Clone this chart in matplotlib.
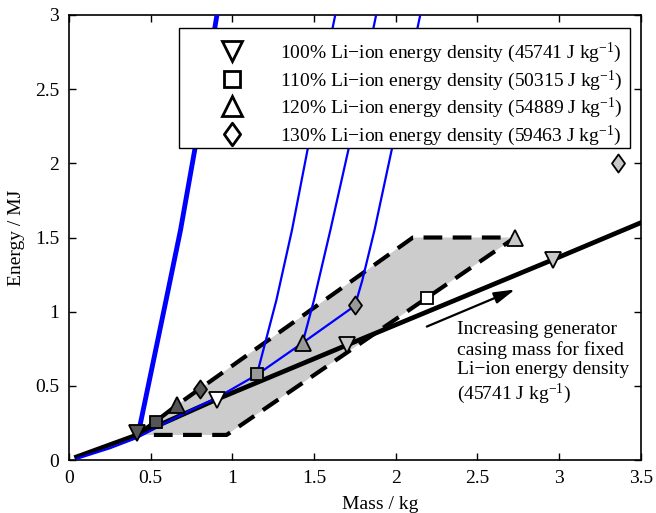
import numpy as np
import matplotlib
matplotlib.use("Agg")
import matplotlib.pyplot as plt
from matplotlib.path import Path
from matplotlib.patches import Rectangle

plt.rcParams["font.family"] = ["Liberation Serif", "DejaVu Serif"]
plt.rcParams["mathtext.fontset"] = "custom"
plt.rcParams["mathtext.rm"] = "Liberation Serif"
plt.rcParams["mathtext.it"] = "Liberation Serif:italic"
plt.rcParams["font.size"] = 14

# (mass in kg, energy in MJ)
casing_mass = [0.047, 0.416, 0.905, 1.70, 2.96, 3.5]
casing_energy = [0.022, 0.17, 0.41, 0.775, 1.35, 1.60]

upper_mass = [0.416, 0.53, 0.66, 0.80, 2.105, 2.73]
upper_energy = [0.17, 0.26, 0.37, 0.48, 1.50, 1.50]
lower_mass = [0.52, 0.965, 2.73]
lower_energy = [0.17, 0.17, 1.50]

min_mass = [0.05, 0.25, 0.416, 0.66, 0.905, 1.15, 1.43, 1.75]
min_energy = [0.01, 0.08, 0.15, 0.29, 0.42, 0.575, 0.79, 1.04]

steep_100_mass = [0.425, 0.595, 0.683, 0.77, 0.906]
steep_100_energy = [0.18, 1.08, 1.55, 2.09, 3.0]
steep_110_mass = [1.15, 1.27, 1.365, 1.46, 1.63]
steep_110_energy = [0.575, 1.08, 1.55, 2.09, 3.0]
steep_120_mass = [1.43, 1.50, 1.60, 1.71, 1.88]
steep_120_energy = [0.79, 1.08, 1.55, 2.09, 3.0]
steep_130_mass = [1.75, 1.795, 1.87, 1.975, 2.15]
steep_130_energy = [1.04, 1.21, 1.55, 2.09, 3.0]

# marker points per energy density
pts_100_mass = [0.416, 0.905, 1.70, 2.96]
pts_100_energy = [0.18, 0.405, 0.775, 1.35]
pts_100_face = ["#555555", "white", "#c8c8c8", "#c8c8c8"]
pts_110_mass = [0.53, 1.15, 2.19]
pts_110_energy = [0.26, 0.58, 1.09]
pts_110_face = ["#555555", "#999999", "white"]
pts_120_mass = [0.66, 1.43, 2.73]
pts_120_energy = [0.37, 0.79, 1.50]
pts_120_face = ["#555555", "#999999", "#c8c8c8"]
pts_130_mass = [0.80, 1.75, 3.36]
pts_130_energy = [0.48, 1.045, 2.0]
pts_130_face = ["#555555", "#999999", "#c8c8c8"]

labels = [
    r"100% Li−ion energy density (45741 J kg$^{-1}$)",
    r"110% Li−ion energy density (50315 J kg$^{-1}$)",
    r"120% Li−ion energy density (54889 J kg$^{-1}$)",
    r"130% Li−ion energy density (59463 J kg$^{-1}$)",
]

diamond = Path([(0, 1), (0.72, 0), (0, -1), (-0.72, 0), (0, 1)],
               [Path.MOVETO, Path.LINETO, Path.LINETO, Path.LINETO, Path.CLOSEPOLY])

fig = plt.figure(figsize=(6.56, 5.13), dpi=100)
ax = fig.add_axes([0.105, 0.103, 0.872, 0.868])

# grey feasible region
ax.fill(upper_mass + lower_mass[::-1], upper_energy + lower_energy[::-1],
        color="#cccccc", lw=0, zorder=1)
ax.plot(upper_mass, upper_energy, color="k", lw=3, dashes=(4.5, 2.5), zorder=2)
ax.plot(lower_mass, lower_energy, color="k", lw=3, dashes=(4.5, 2.5), zorder=2)

ax.plot(casing_mass, casing_energy, color="k", lw=3.4, zorder=3)

ax.plot(steep_100_mass, steep_100_energy, color="#0000ff", lw=3.5, zorder=4)
for m, e in [(steep_110_mass, steep_110_energy),
             (steep_120_mass, steep_120_energy),
             (steep_130_mass, steep_130_energy)]:
    ax.plot(m, e, color="#0000ff", lw=1.6, zorder=4)
ax.plot(min_mass, min_energy, color="#0000ff", lw=1.6, zorder=4)

series = [
    (pts_100_mass, pts_100_energy, pts_100_face, "v", 12),
    (pts_110_mass, pts_110_energy, pts_110_face, "s", 9),
    (pts_120_mass, pts_120_energy, pts_120_face, "^", 12),
    (pts_130_mass, pts_130_energy, pts_130_face, diamond, 13),
]
handles = []
for (m, e, faces, mk, ms), lab in zip(series, labels):
    for x, y, fc in zip(m, e, faces):
        ax.plot(x, y, marker=mk, ms=ms, mfc=fc, mec="k", mew=1.3,
                ls="none", zorder=5)
    h, = ax.plot([], [], marker=mk, ms=ms * 1.25, mfc="white", mec="k",
                 mew=2, ls="none", label=lab)
    handles.append(h)

# legend box drawn on its own so the rows can sit like the original
ax.add_patch(Rectangle((0.1923, 0.7011), 0.9808 - 0.1923, 0.9708 - 0.7011,
                       transform=ax.transAxes, facecolor="white",
                       edgecolor="k", lw=1.0, zorder=9))
leg = ax.legend(handles=handles, loc="upper right",
                bbox_to_anchor=(0.974, 0.951), frameon=False,
                borderpad=0.2, handlelength=4.94, handletextpad=0.0,
                labelspacing=0.17, borderaxespad=0, fontsize=14)
leg.set_zorder(10)

ax.annotate("", xy=(2.73, 1.15), xytext=(2.19, 0.90),
            arrowprops=dict(arrowstyle="-|>,head_length=0.9,head_width=0.25",
                            color="k", lw=1.6, shrinkA=0, shrinkB=0))
ax.text(2.375, 0.935, "Increasing generator\ncasing mass for fixed\n"
        "Li−ion energy density\n(45741 J kg$^{-1}$)",
        ha="left", va="top", fontsize=14, linespacing=1.18)

ax.set_xlim(0, 3.5)
ax.set_ylim(0, 3)
ax.set_xticks(np.arange(0, 3.51, 0.5))
ax.set_xticklabels(["0", "0.5", "1", "1.5", "2", "2.5", "3", "3.5"])
ax.set_yticks(np.arange(0, 3.01, 0.5))
ax.set_yticklabels(["0", "0.5", "1", "1.5", "2", "2.5", "3"])
ax.tick_params(direction="in", top=True, right=True, length=5, width=1,
               labelsize=14, pad=7)
for sp in ax.spines.values():
    sp.set_linewidth(1.2)

ax.set_xlabel("Mass / kg", fontsize=14)
ax.set_ylabel("Energy / MJ", fontsize=14)
ax.xaxis.set_label_coords(0.544, -0.08)
ax.yaxis.set_label_coords(-0.077, 0.5)

fig.savefig("out.png", dpi=100)
